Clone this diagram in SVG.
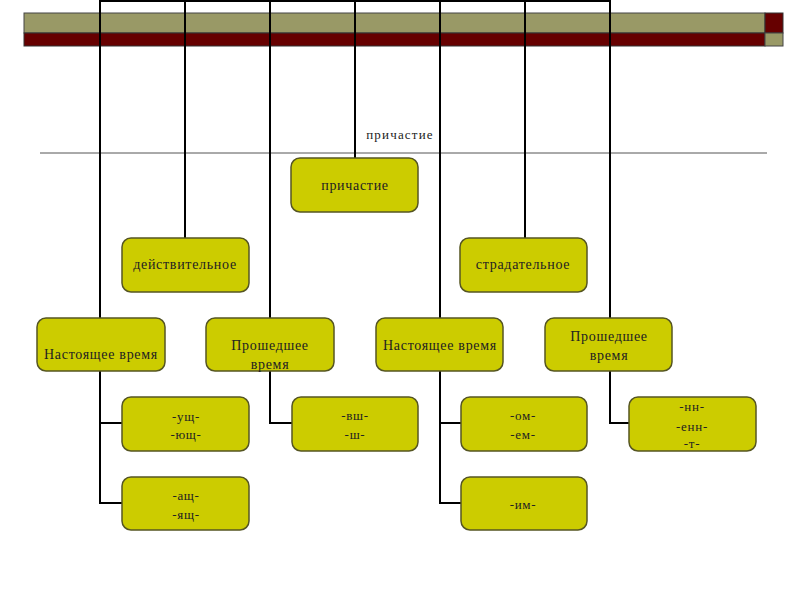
<svg xmlns="http://www.w3.org/2000/svg" width="800" height="600" viewBox="0 0 800 600">
<style>
.olive{fill:#999966;stroke:#444;stroke-width:1}
.red{fill:#660000;stroke:#333;stroke-width:1}
.conn{fill:none;stroke:#000;stroke-width:2}
.box{fill:#cccc00;stroke:#555522;stroke-width:1.5}
.t{font-family:"Liberation Serif","Times New Roman",serif;font-size:14px;fill:#222;text-anchor:middle;letter-spacing:0.7px}
.s{font-size:13px}
</style>
<rect width="800" height="600" fill="#fff"/>
<g id="header-bar">
<rect class="olive" x="24" y="13" width="741" height="20"/>
<rect class="red" x="24" y="33" width="741" height="13"/>
<rect class="red" x="765" y="13" width="18" height="20"/>
<rect class="olive" x="765" y="33" width="18" height="13"/>
</g>
<g id="title">
<line x1="40" y1="153" x2="767" y2="153" stroke="#555" stroke-width="1"/>
<text class="t s" x="400" y="139" fill="#333" style="letter-spacing:1.2px">причастие</text>
</g>
<g id="connectors" class="conn">
<path d="M100,1 H610"/>
<path d="M100,0 V503 H122 M100,423 H122"/>
<path d="M185,0 V238"/>
<path d="M270,0 V423 H292"/>
<path d="M355,0 V158"/>
<path d="M440,0 V503 H461 M440,423 H461"/>
<path d="M525,0 V238"/>
<path d="M610,0 V423 H629"/>
</g>
<g id="n-prich"><rect class="box" x="291" y="158" width="127" height="54" rx="9"/><text class="t" x="355" y="190">причастие</text></g>
<g id="n-deistv"><rect class="box" x="122" y="238" width="127" height="54" rx="9"/><text class="t" x="185" y="269">действительное</text></g>
<g id="n-strad"><rect class="box" x="460" y="238" width="127" height="54" rx="9"/><text class="t" x="523" y="269">страдательное</text></g>
<g id="n-nast1"><rect class="box" x="37" y="318" width="128" height="53" rx="9"/><text class="t" x="101" y="359">Настоящее время</text></g>
<g id="n-prosh1"><rect class="box" x="206" y="318" width="128" height="53" rx="9"/><text class="t" x="270" y="350">Прошедшее</text><text class="t" x="270" y="369">время</text></g>
<g id="n-nast2"><rect class="box" x="376" y="318" width="127" height="53" rx="9"/><text class="t" x="440" y="350">Настоящее время</text></g>
<g id="n-prosh2"><rect class="box" x="545" y="318" width="127" height="53" rx="9"/><text class="t" x="609" y="341">Прошедшее</text><text class="t" x="609" y="360">время</text></g>
<g id="n-ush"><rect class="box" x="122" y="397" width="127" height="54" rx="9"/><text class="t s" x="186" y="421">-ущ-</text><text class="t s" x="186" y="439">-ющ-</text></g>
<g id="n-ash"><rect class="box" x="122" y="477" width="127" height="53" rx="9"/><text class="t s" x="186" y="500">-ащ-</text><text class="t s" x="186" y="519">-ящ-</text></g>
<g id="n-vsh"><rect class="box" x="292" y="397" width="126" height="54" rx="9"/><text class="t s" x="355" y="420">-вш-</text><text class="t s" x="355" y="439">-ш-</text></g>
<g id="n-om"><rect class="box" x="461" y="397" width="126" height="54" rx="9"/><text class="t s" x="523" y="420">-ом-</text><text class="t s" x="523" y="439">-ем-</text></g>
<g id="n-im"><rect class="box" x="461" y="477" width="126" height="53" rx="9"/><text class="t s" x="523" y="509">-им-</text></g>
<g id="n-nn"><rect class="box" x="629" y="397" width="127" height="54" rx="9"/><text class="t s" x="692" y="411">-нн-</text><text class="t s" x="692" y="431">-енн-</text><text class="t s" x="692" y="448">-т-</text></g>
</svg>
